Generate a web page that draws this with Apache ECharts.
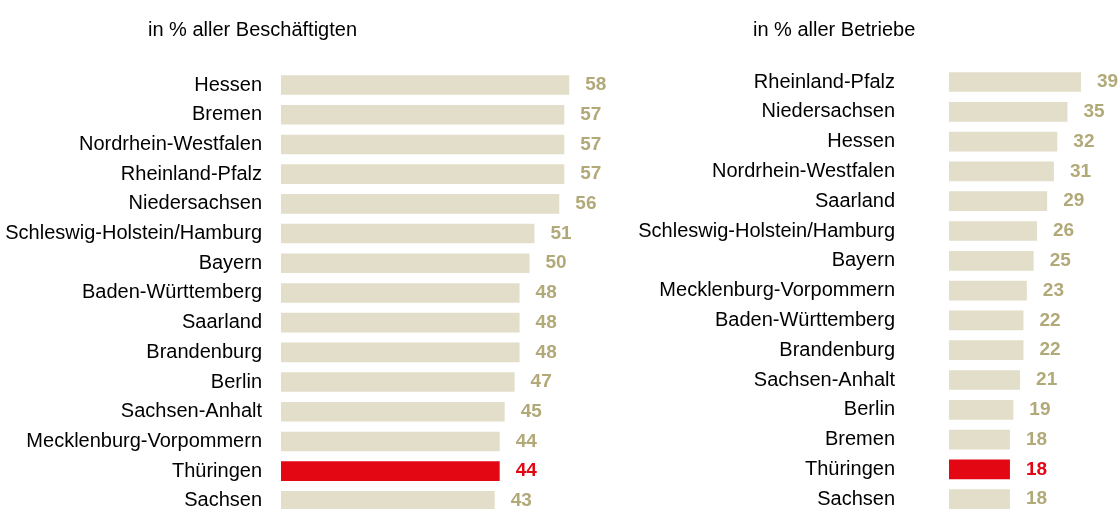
<!DOCTYPE html>
<html>
<head>
<meta charset="utf-8">
<script src="https://cdn.jsdelivr.net/npm/echarts@6/dist/echarts.min.js"></script>
<style>
html, body { margin: 0; padding: 0; background: #fff; }
#chart { width: 1119px; height: 509px; }
</style>
</head>
<body>
<div id="chart"></div>
<script>
// Beschäftigte
const laenderLinks = ["Hessen", "Bremen", "Nordrhein-Westfalen", "Rheinland-Pfalz", "Niedersachsen",
	"Schleswig-Holstein/Hamburg", "Bayern", "Baden-Württemberg", "Saarland", "Brandenburg",
	"Berlin", "Sachsen-Anhalt", "Mecklenburg-Vorpommern", "Thüringen", "Sachsen"];
const werteLinks = [58, 57, 57, 57, 56, 51, 50, 48, 48, 48, 47, 45, 44, 44, 43];

// Betriebe
const laenderRechts = ["Rheinland-Pfalz", "Niedersachsen", "Hessen", "Nordrhein-Westfalen", "Saarland",
	"Schleswig-Holstein/Hamburg", "Bayern", "Mecklenburg-Vorpommern", "Baden-Württemberg", "Brandenburg",
	"Sachsen-Anhalt", "Berlin", "Bremen", "Thüringen", "Sachsen"];
const werteRechts = [39, 35, 32, 31, 29, 26, 25, 23, 22, 22, 21, 19, 18, 18, 18];

const titel = ["in % aller Beschäftigten", "in % aller Betriebe"];
const hervorgehoben = "Thüringen";

const FONT = '"Liberation Sans", Arial, sans-serif';
const BAR = "#E2DECA";
const WERT = "#B2A979";
const ROT = "#E30613";

// Thüringen rot markieren
const toData = (namen, werte) => werte.map((v, i) => {
	if (namen[i] !== hervorgehoben) return v;
	return { value: v, itemStyle: { color: ROT }, label: { color: ROT } };
});

const yAxisOf = (namen, idx, margin) => ({
	type: "category",
	gridIndex: idx,
	data: namen,
	inverse: true,
	axisLine: { show: false },
	axisTick: { show: false },
	axisLabel: { color: "#000", fontFamily: FONT, fontSize: 20, margin: margin, interval: 0 }
});

const xAxisOf = (idx, max) => ({
	type: "value",
	gridIndex: idx,
	min: 0,
	max: max,
	show: false
});

const barSeries = (namen, werte, idx) => ({
	type: "bar",
	xAxisIndex: idx,
	yAxisIndex: idx,
	data: toData(namen, werte),
	barCategoryGap: "34%",
	itemStyle: { color: BAR },
	label: {
		show: true,
		position: "right",
		distance: 16,
		color: WERT,
		fontFamily: FONT,
		fontWeight: "bold",
		fontSize: 19
	},
	silent: true
});

const chart = echarts.init(document.getElementById("chart"));
chart.setOption({
	animation: false,
	title: [
		{ text: titel[0], left: 143, top: 15, textStyle: { fontFamily: FONT, fontSize: 20, fontWeight: "normal", color: "#000" } },
		{ text: titel[1], left: 748, top: 15, textStyle: { fontFamily: FONT, fontSize: 20, fontWeight: "normal", color: "#000" } }
	],
	grid: [
		{ left: 281, top: 70.2, width: 298.2, height: 445.5, outerBoundsMode: "none" },
		{ left: 949, top: 67.1, width: 135.4, height: 447, outerBoundsMode: "none" }
	],
	xAxis: [xAxisOf(0, 60), xAxisOf(1, 40)],
	yAxis: [yAxisOf(laenderLinks, 0, 19), yAxisOf(laenderRechts, 1, 54)],
	series: [barSeries(laenderLinks, werteLinks, 0), barSeries(laenderRechts, werteRechts, 1)]
});
</script>
</body>
</html>
